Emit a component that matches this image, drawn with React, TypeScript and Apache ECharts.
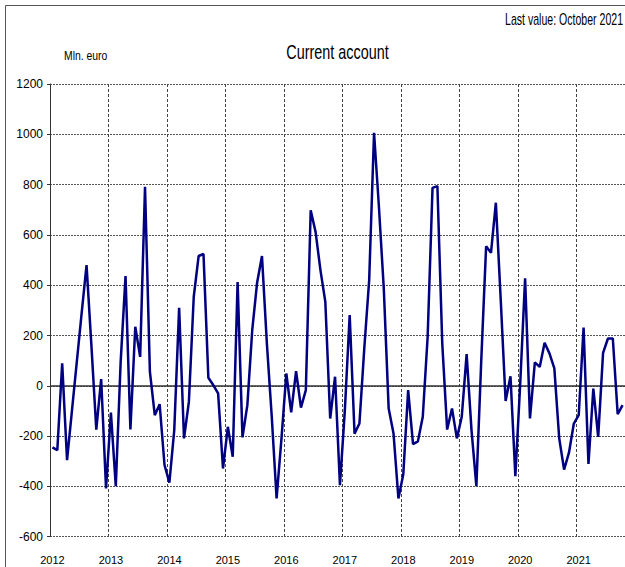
import React, { useEffect, useRef } from "react";
import * as echarts from "echarts";

const years = ["2012", "2013", "2014", "2015", "2016", "2017", "2018", "2019", "2020", "2021"];

// Monthly current account, Mln. euro
const v2012 = [-245, -256, 89, -296, -100, 95, 290, 480, 160, -174, 27, -408];
const v2013 = [-106, -399, 95, 436, -174, 235, 115, 791, 56, -117, -73, -315];
const v2014 = [-385, -176, 310, -209, -64, 354, 516, 524, 32, 3, -30, -329];
const v2015 = [-163, -282, 413, -205, -77, 221, 410, 516, 170, -120, -448, -210];
const v2016 = [49, -106, 58, -87, -17, 698, 612, 460, 334, -130, 36, -395];
const v2017 = [-100, 281, -190, -150, 150, 420, 1006, 712, 387, -90, -190, -448];
const v2018 = [-352, -17, -232, -221, -123, 195, 787, 794, 168, -174, -90, -209];
const v2019 = [-123, 126, -176, -399, 100, 555, 529, 728, 341, -60, 38, -359];
const v2020 = [10, 427, -130, 93, 75, 171, 129, 69, -209, -333, -266, -150];
const v2021 = [-117, 232, -311, -11, -203, 131, 188, 188, -113, -77];

const yTicks = { min: -600, max: 1200, step: 200 };

const values = [...v2012, ...v2013, ...v2014, ...v2015, ...v2016, ...v2017, ...v2018, ...v2019, ...v2020, ...v2021];
const categories = values.map(
  (_, i) => `${years[Math.floor(i / 12)]}-${String((i % 12) + 1).padStart(2, "0")}`
);

const FONT = '"Liberation Sans", Arial, sans-serif';

export default function App() {
  const ref = useRef<HTMLDivElement>(null);
  useEffect(() => {
    if (!ref.current) return;
    const chart = echarts.init(ref.current, null, { renderer: "svg" });
    chart.setOption({
      animation: false,
      backgroundColor: "#ffffff",
      textStyle: { fontFamily: FONT },
      graphic: [
        {
          type: "rect",
          shape: { x: 5.5, y: 5.5, width: 700, height: 700 },
          style: { fill: "none", stroke: "#555", lineWidth: 1 },
          silent: true,
        },
        {
          type: "text",
          x: 623,
          y: 20,
          scaleX: 0.66,
          style: {
            text: "Last value: October 2021",
            fontFamily: FONT,
            fontSize: 16,
            fill: "#000",
            align: "right",
            verticalAlign: "middle",
          },
        },
        {
          type: "text",
          x: 337.5,
          y: 52,
          scaleX: 0.72,
          style: {
            text: "Current account",
            fontFamily: FONT,
            fontSize: 20,
            fill: "#000",
            align: "center",
            verticalAlign: "middle",
          },
        },
        {
          type: "text",
          x: 64,
          y: 55,
          scaleX: 0.8,
          style: {
            text: "Mln. euro",
            fontFamily: FONT,
            fontSize: 13,
            fill: "#000",
            align: "left",
            verticalAlign: "middle",
          },
        },
      ],
      grid: { left: 50, top: 84, width: 576, height: 452.7, containLabel: false },
      xAxis: {
        type: "category",
        data: categories,
        boundaryGap: true,
        axisLine: { show: false },
        axisTick: { show: false },
        axisLabel: {
          interval: (i: number) => i % 12 === 0,
          formatter: (v: string) => v.slice(0, 4),
          fontFamily: FONT,
          fontSize: 11,
          color: "#000",
          margin: 18,
        },
        splitLine: {
          show: true,
          interval: (i: number) => i % 12 === 0,
          lineStyle: { color: "#444", type: [3, 2], width: 1 },
        },
      },
      yAxis: {
        type: "value",
        min: yTicks.min,
        max: yTicks.max,
        interval: yTicks.step,
        axisLine: { show: true, lineStyle: { color: "#333", width: 1 } },
        axisTick: { show: true, inside: false, length: 3, lineStyle: { color: "#333" } },
        axisLabel: {
          fontFamily: FONT,
          fontSize: 12,
          color: "#000",
          margin: 7,
          formatter: (v: number) => String(v),
        },
        splitLine: { show: true, lineStyle: { color: "#555", type: [2, 1], width: 1 } },
      },
      series: [
        {
          type: "line",
          data: values,
          symbol: "none",
          lineStyle: { color: "#000080", width: 2.5 },
          markLine: {
            silent: true,
            symbol: ["none", "none"],
            label: { show: false },
            lineStyle: { color: "#333", type: "solid", width: 1.5 },
            data: [{ yAxis: 0 }],
            z: 1,
          },
        },
      ],
    });
    return () => chart.dispose();
  }, []);
  return (
    <div
      ref={ref}
      style={{ position: "absolute", left: 0, top: 0, width: 625, height: 567 }}
    />
  );
}
